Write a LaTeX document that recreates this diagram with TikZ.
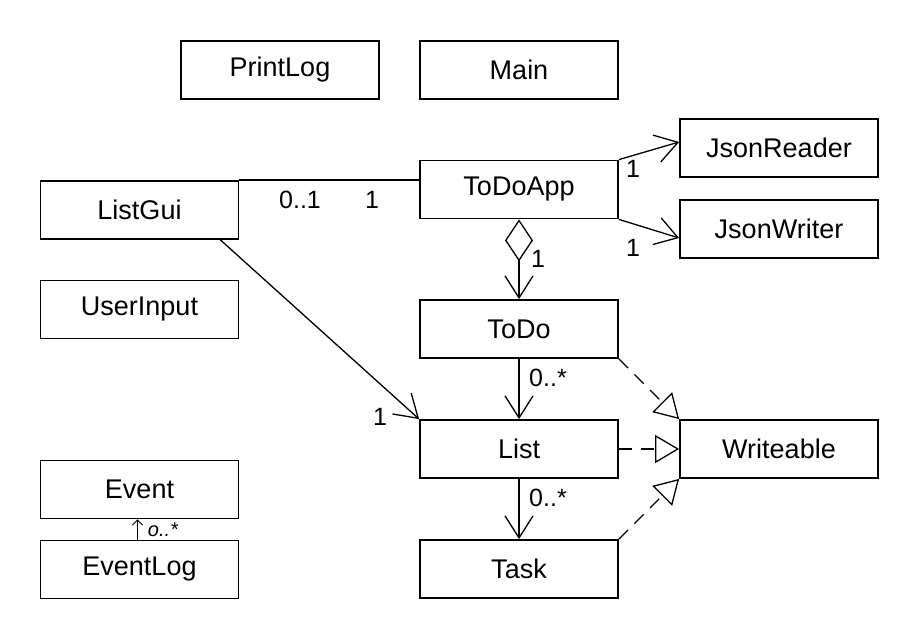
\documentclass[tikz,border=0pt]{standalone}
\usepackage{fontspec}
\setmainfont{Liberation Sans}
\usetikzlibrary{arrows.meta}

\tikzset{
  cls/.style={draw, line width=1.8pt, minimum width=198pt, minimum height=58pt,
    inner sep=0pt, font=\fontsize{27}{31}\selectfont},
  assoc/.style={line width=1.3pt, -{Straight Barb[length=22pt,width=28pt,line width=1.3pt]}},
  real/.style={line width=1.3pt, dash pattern=on 13pt off 9pt,
    -{Triangle[open,fill=white,length=24pt,width=28pt,line width=1.3pt,sep=0pt]}},
  mult/.style={font=\fontsize{25}{28}\selectfont, inner sep=0pt},
}

\begin{document}
\begin{tikzpicture}[x=1pt, y=-1pt]
      \useasboundingbox (0,0) rectangle (920,640);

      % Classes
      \node[cls] (printlog) at (280,70) {PrintLog};
      \node[cls] (main) at (519,70) {Main};
      \node[cls] (jsonreader) at (779,148) {JsonReader};
      \node[cls] (todoapp) at (519,189.5) {ToDoApp};
      \node[cls] (listgui) at (139.5,210) {ListGui};
      \node[cls] (jsonwriter) at (779,229) {JsonWriter};
      \node[cls] (userinput) at (139.5,309.5) {UserInput};
      \node[cls] (todo) at (519,329) {ToDo};
      \node[cls] (list) at (519,449) {List};
      \node[cls] (writeable) at (779,449) {Writeable};
      \node[cls] (event) at (139.5,489.5) {Event};
      \node[cls] (eventlog) at (139.5,569.5) {EventLog};
      \node[cls] (task) at (519,569) {Task};

      % Associations
      \draw[line width=1.3pt] (listgui.north east) -- (todoapp.west |- listgui.north east);
      \draw[assoc] ([xshift=-19pt]listgui.south east) -- (list.north west);
      \draw[assoc] (todoapp.north east) -- ([yshift=6pt]jsonreader.west);
      \draw[assoc] (todoapp.south east) -- ([yshift=-9pt]jsonwriter.west);
      \draw[line width=1.3pt, {Diamond[open,length=42pt,width=28pt,line width=1.3pt]}-{Straight Barb[length=22pt,width=28pt,line width=1.3pt]}] (todoapp.south) -- (todo.north);
      \draw[assoc] (todo.south) -- (list.north);
      \draw[assoc] (list.south) -- (task.north);
      \draw[line width=0.9pt, -{Straight Barb[length=5pt,width=10pt]}] ([xshift=-2pt]eventlog.north) -- ([xshift=-2pt]event.south);

      % Realizations
      \draw[real] (todo.south east) -- (writeable.north west);
      \draw[real] (list.east) -- (writeable.west);
      \draw[real] (task.north east) -- (writeable.south west);

      % Multiplicities
      \node[mult] (m1) at (300,200) {0..1};
      \node[mult] (m2) at (372,200) {1};
      \node[mult] (m3) at (633,169) {1};
      \node[mult] (m4) at (633,248) {1};
      \node[mult] (m5) at (538,259) {1};
      \node[mult] (m6) at (548,378) {0..*};
      \node[mult] (m7) at (548,498) {0..*};
      \node[mult] (m8) at (380,417) {1};
      \node[mult, font=\fontsize{20}{23}\selectfont\itshape] (m9) at (163,530) {o..*};
\end{tikzpicture}
\end{document}
